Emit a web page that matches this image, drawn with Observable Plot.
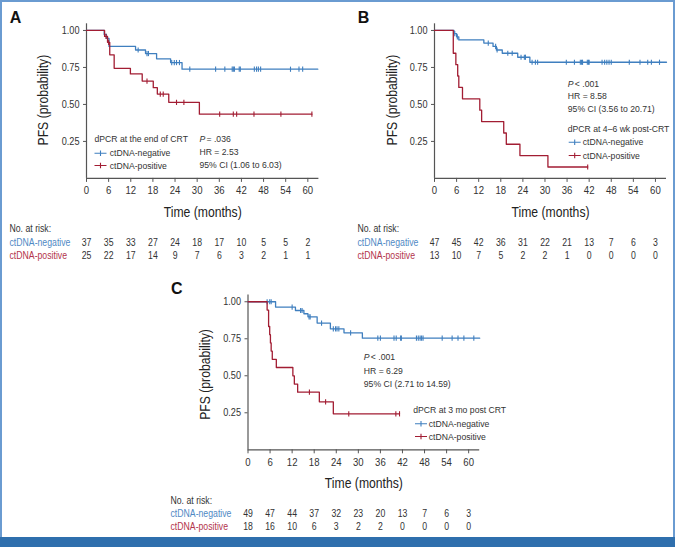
<!DOCTYPE html>
<html><head><meta charset="utf-8">
<script src="https://cdn.jsdelivr.net/npm/d3@7"></script>
<script src="https://cdn.jsdelivr.net/npm/@observablehq/plot@0.6"></script>
<style>
body{margin:0;background:#fff;}
#fig{position:relative;width:675px;height:547px;overflow:hidden;background:#fff;}
.pane{position:absolute;}
#border{position:absolute;left:0;top:0;width:675px;height:537px;box-sizing:border-box;border:2px solid #6a9bd1;border-bottom:none;pointer-events:none;}
#band{position:absolute;left:0;top:537px;width:675px;height:10px;background:#2f6fad;}
</style></head>
<body>
<div id="fig"></div>
<script>
// ---------- data ----------
const xTicks = [0, 6, 12, 18, 24, 30, 36, 42, 48, 54, 60];
const yTicks = [0.25, 0.5, 0.75, 1.0];
const groups = ["ctDNA-negative", "ctDNA-positive"];

// Panel A: dPCR at the end of CRT
const aNegT = [0, 4.8, 5.4, 6.1, 13.3, 16.0, 19.0, 22.8, 25.9, 62.7];
const aNegS = [1, 0.973, 0.946, 0.892, 0.868, 0.844, 0.808, 0.783, 0.738, 0.738];
const aNegC = [14.0, 16.4, 16.8, 23.1, 23.8, 24.4, 25.2, 28.0, 35.0, 37.5, 39.5, 39.8, 40.1, 41.4, 41.7, 45.5, 46.1, 46.6, 47.2, 55.3, 57.6, 58.6];
const aPosT = [0, 4.9, 5.7, 6.3, 7.5, 11.9, 15.1, 18.1, 19.2, 22.3, 30.6, 61.1];
const aPosS = [1, 0.96, 0.92, 0.835, 0.744, 0.706, 0.658, 0.613, 0.57, 0.514, 0.434, 0.434];
const aPosC = [5.3, 6.0, 16.4, 20.0, 20.8, 24.4, 26.4, 36.1, 39.8, 40.7, 45.4, 52.7, 61.1];
const aRiskNeg = [37, 35, 33, 27, 24, 18, 17, 10, 5, 5, 2];
const aRiskPos = [25, 22, 17, 14, 9, 7, 6, 3, 2, 1, 1];

// Panel B: dPCR at 4–6 wk post-CRT
const bNegT = [0, 5.3, 6.0, 6.6, 13.4, 15.9, 16.8, 18.4, 22.6, 25.9, 63.0];
const bNegS = [1, 0.979, 0.957, 0.936, 0.915, 0.892, 0.868, 0.846, 0.819, 0.785, 0.785];
const bNegC = [5.5, 6.2, 14.6, 16.6, 17.0, 19.9, 21.1, 23.5, 24.4, 24.7, 26.5, 27.4, 28.0, 35.8, 38.0, 39.6, 39.9, 40.2, 41.5, 41.8, 42.0, 45.5, 46.2, 46.8, 47.4, 48.0, 52.9, 55.8, 57.9, 58.9, 61.1];
const bPosT = [0, 5.1, 5.8, 6.3, 6.6, 7.6, 12.3, 12.8, 18.8, 19.5, 23.2, 30.8, 41.6];
const bPosS = [1, 0.846, 0.769, 0.692, 0.615, 0.538, 0.461, 0.384, 0.307, 0.231, 0.154, 0.077, 0.077];
const bPosC = [41.6];
const bRiskNeg = [47, 45, 42, 36, 31, 22, 21, 13, 7, 6, 3];
const bRiskPos = [13, 10, 7, 5, 2, 2, 1, 0, 0, 0, 0];

// Panel C: dPCR at 3 mo post CRT
const cNegT = [0, 7.5, 12.9, 15.2, 16.3, 18.8, 22.4, 26.1, 31.1, 63.0];
const cNegS = [1, 0.964, 0.941, 0.919, 0.898, 0.856, 0.817, 0.79, 0.754, 0.754];
const cNegC = [5.2, 5.9, 6.3, 12.0, 14.3, 14.7, 16.6, 16.9, 20.0, 23.2, 23.8, 24.2, 24.7, 27.9, 35.3, 36.0, 39.7, 40.3, 41.5, 41.7, 45.8, 46.3, 46.8, 47.2, 47.6, 52.8, 55.5, 57.1, 58.7, 61.4];
const cPosT = [0, 5.2, 5.6, 5.9, 6.1, 6.3, 6.6, 7.7, 12.2, 12.6, 13.5, 19.4, 23.2, 41.2];
const cPosS = [1, 0.944, 0.833, 0.778, 0.722, 0.667, 0.611, 0.556, 0.5, 0.444, 0.389, 0.324, 0.243, 0.243];
const cPosC = [16.7, 21.1, 27.4, 40.2, 41.2];
const cRiskNeg = [49, 47, 44, 37, 32, 23, 20, 13, 7, 6, 3];
const cRiskPos = [18, 16, 10, 6, 3, 2, 2, 0, 0, 0, 0];

// ---------- style ----------
const FONT = '"Liberation Sans",Arial,sans-serif';
const BLUE = "#3f7fbf", RED = "#a21d33";
const BLUE_T = "#5089c4", RED_T = "#b3334b";
const AXIS = "#555";
const XDOM = [0, 63], YDOM = [0, 1.045];
const CONDENSE = 0.87, CONDENSE_ANN = 0.9, ANN_FS = 9.6;

const censorSym = {draw(ctx, size) { const r = Math.sqrt(size / Math.PI); ctx.moveTo(0, -r); ctx.lineTo(0, r); }};
const swatchSym = {draw(ctx, size) { const r = Math.sqrt(size / Math.PI); ctx.moveTo(-r, 0); ctx.lineTo(r, 0); ctx.moveTo(0, -r * 0.45); ctx.lineTo(0, r * 0.45); }};

const steps = (T, S) => T.map((t, i) => ({t, s: S[i]}));
const cens = (C, T, S) => C.map(c => ({t: c, s: S[Math.max(0, d3.bisectRight(T, c) - 1)]}));

const fig = document.getElementById("fig");
function place(svg, left, top) {
  const d = document.createElement("div");
  d.className = "pane"; d.style.left = left + "px"; d.style.top = top + "px";
  d.appendChild(svg); fig.appendChild(d);
}
const txt = (s, o) => Plot.text([s], {frameAnchor: "top-left", textAnchor: "start", lineAnchor: "middle", fill: "#333", fontSize: ANN_FS, ...o});

function kmPanel(c) {
  const marks = [
    Plot.ruleY([0], {stroke: AXIS, strokeWidth: 1.2}),
    Plot.ruleX([0], {stroke: AXIS, strokeWidth: 1.2}),
    Plot.axisY({ticks: yTicks, tickFormat: d3.format(".2f"), tickSize: 3, tickPadding: 4, label: null, stroke: AXIS, fill: "#333", fontSize: 10.5}),
    Plot.axisX({ticks: xTicks, tickSize: 4, tickPadding: 4, label: null, stroke: AXIS, fill: "#333", fontSize: 11}),
    Plot.text(["Time (months)"], {frameAnchor: "bottom", textAnchor: "middle", lineAnchor: "middle", dy: c.xlabDy, fontSize: 14, fill: "#222"}),
    Plot.text(["PFS (probability)"], {frameAnchor: "left", textAnchor: "middle", lineAnchor: "middle", rotate: -90, dx: c.ylabDx, dy: c.ylabDy, fontSize: 14, fill: "#222"}),
    Plot.text([c.letter], {frameAnchor: "top-left", textAnchor: "middle", lineAnchor: "middle", dx: c.letDx, dy: c.letDy, fontSize: 16, fontWeight: "bold", fill: "#111", fontFamily: '"Liberation Sans",Arial,sans-serif'}),
  ];
  for (const s of c.series) {
    marks.push(Plot.line(steps(s.T, s.S), {x: "t", y: "s", curve: "step-after", stroke: s.color, strokeWidth: 1.3}));
    marks.push(Plot.dot(cens(s.C, s.T, s.S), {x: "t", y: "s", symbol: censorSym, r: 2.6, stroke: s.color, strokeWidth: 1.1, fill: "none"}));
  }
  // statistics
  marks.push(txt("P", {dx: c.stat.dx, dy: c.stat.dy, fontStyle: "italic"}));
  marks.push(txt(c.pText, {dx: c.stat.dx + c.stat.pGap, dy: c.stat.dy}));
  marks.push(txt(c.hr, {dx: c.stat.dx, dy: c.stat.dy + c.stat.lh}));
  marks.push(txt(c.ci, {dx: c.stat.dx, dy: c.stat.dy + 2 * c.stat.lh}));
  // legend
  marks.push(txt(c.legTitle, {dx: c.leg.dx, dy: c.leg.dy}));
  c.series.forEach((s, i) => {
    const y = c.leg.dy + c.leg.first + i * c.leg.lh;
    marks.push(Plot.dot([0], {frameAnchor: "top-left", dx: c.leg.dx + c.leg.sw, dy: y, symbol: swatchSym, r: 6, stroke: s.color, strokeWidth: 1.1, fill: "none"}));
    marks.push(txt(groups[i], {dx: c.leg.dx + c.leg.tx, dy: y}));
  });
  const svg = Plot.plot({
    width: c.width, height: c.height,
    marginLeft: c.mL, marginRight: c.mR, marginTop: c.mT, marginBottom: c.mB,
    x: {domain: XDOM}, y: {domain: YDOM},
    style: {fontFamily: FONT, fontSize: "10.5px", color: "#333", background: "transparent", overflow: "visible"},
    marks
  });
  place(svg, c.left, c.top);
}

function riskTable(c) {
  const rows = (vals, g) => vals.map((n, i) => ({t: xTicks[i], g, n}));
  const svg = Plot.plot({
    width: c.width, height: c.height,
    marginLeft: c.mL, marginRight: c.mR, marginTop: c.mT, marginBottom: c.mB,
    x: {domain: XDOM, axis: null},
    y: {domain: groups, type: "point", padding: 0, axis: null},
    style: {fontFamily: FONT, fontSize: "10px", color: "#333", background: "transparent", overflow: "visible"},
    marks: [
      Plot.text(["No. at risk:"], {frameAnchor: "top-left", textAnchor: "start", lineAnchor: "middle", dx: c.labDx, dy: c.headDy, fill: "#333", fontSize: 10}),
      Plot.text([groups[0]], {y: d => d, frameAnchor: "left", textAnchor: "start", dx: c.labDx, fill: BLUE_T, fontSize: 10}),
      Plot.text([groups[1]], {y: d => d, frameAnchor: "left", textAnchor: "start", dx: c.labDx, fill: RED_T, fontSize: 10}),
      Plot.text(rows(c.neg, groups[0]).concat(rows(c.pos, groups[1])), {x: "t", y: "g", text: "n", fill: "#333", fontSize: 10})
    ]
  });
  place(svg, c.left, c.top);
}

// ---------- panels ----------
kmPanel({
  letter: "A", left: 0, top: 0, width: 335, height: 220, mL: 86, mR: 16.6, mT: 23.3, mB: 42.1,
  xlabDy: 34, ylabDx: -43, ylabDy: -1, letDx: -71, letDy: -5.5,
  series: [{T: aNegT, S: aNegS, C: aNegC, color: BLUE}, {T: aPosT, S: aPosS, C: aPosC, color: RED}],
  pText: "= .036", hr: "HR = 2.53", ci: "95% CI (1.06 to 6.03)",
  stat: {dx: 113, dy: 115, lh: 13.3, pGap: 7},
  legTitle: "dPCR at the end of CRT",
  leg: {dx: 8, dy: 115, first: 14.4, lh: 12.3, sw: 6, tx: 15.3}
});
riskTable({left: 0, top: 220, width: 335, height: 48, mL: 86, mR: 16.6, mT: 21.7, mB: 13.3, labDx: -77, headDy: -13.7, neg: aRiskNeg, pos: aRiskPos});

kmPanel({
  letter: "B", left: 335, top: 0, width: 340, height: 220, mL: 99, mR: 9, mT: 23.3, mB: 42.1,
  xlabDy: 34, ylabDx: -42, ylabDy: -1, letDx: -71, letDy: -5.6,
  series: [{T: bNegT, S: bNegS, C: bNegC, color: BLUE}, {T: bPosT, S: bPosS, C: bPosC, color: RED}],
  pText: "< .001", hr: "HR = 8.58", ci: "95% CI (3.56 to 20.71)",
  stat: {dx: 133.3, dy: 59.7, lh: 12.9, pGap: 7},
  legTitle: "dPCR at 4–6 wk post-CRT",
  leg: {dx: 133.3, dy: 105.4, first: 13, lh: 13.3, sw: 6.9, tx: 15}
});
riskTable({left: 335, top: 220, width: 340, height: 48, mL: 99, mR: 9, mT: 21.7, mB: 13.3, labDx: -77, headDy: -13.7, neg: bRiskNeg, pos: bRiskPos});

kmPanel({
  letter: "C", left: 150, top: 280, width: 340, height: 210, mL: 97.5, mR: 10.8, mT: 14.6, mB: 40.7,
  xlabDy: 33.4, ylabDx: -42.5, ylabDy: 2, letDx: -71.3, letDy: -6.6,
  series: [{T: cNegT, S: cNegS, C: cNegC, color: BLUE}, {T: cPosT, S: cPosS, C: cPosC, color: RED}],
  pText: "< .001", hr: "HR = 6.29", ci: "95% CI (2.71 to 14.59)",
  stat: {dx: 115.8, dy: 62.1, lh: 13.3, pGap: 7},
  legTitle: "dPCR at 3 mo post CRT",
  leg: {dx: 165.2, dy: 114.7, first: 14, lh: 12.7, sw: 7.8, tx: 15.6}
});
riskTable({left: 150, top: 490, width: 340, height: 48, mL: 97.5, mR: 10.8, mT: 22.3, mB: 12, labDx: -77.5, headDy: -12.3, neg: cRiskNeg, pos: cRiskPos});

// condensed lettering (reference uses a narrow typeface)
fig.querySelectorAll("svg text").forEach(t => {
  const g = t.closest("g");
  if (g && g.getAttribute("font-weight") === "bold") return;
  const k = g && g.getAttribute("font-size") === String(ANN_FS) ? CONDENSE_ANN : CONDENSE;
  const L = t.getComputedTextLength();
  if (L > 0) { t.setAttribute("textLength", (L * k).toFixed(2)); t.setAttribute("lengthAdjust", "spacingAndGlyphs"); }
});

const b1 = document.createElement("div"); b1.id = "border"; fig.appendChild(b1);
const b2 = document.createElement("div"); b2.id = "band"; fig.appendChild(b2);
</script>
</body></html>
